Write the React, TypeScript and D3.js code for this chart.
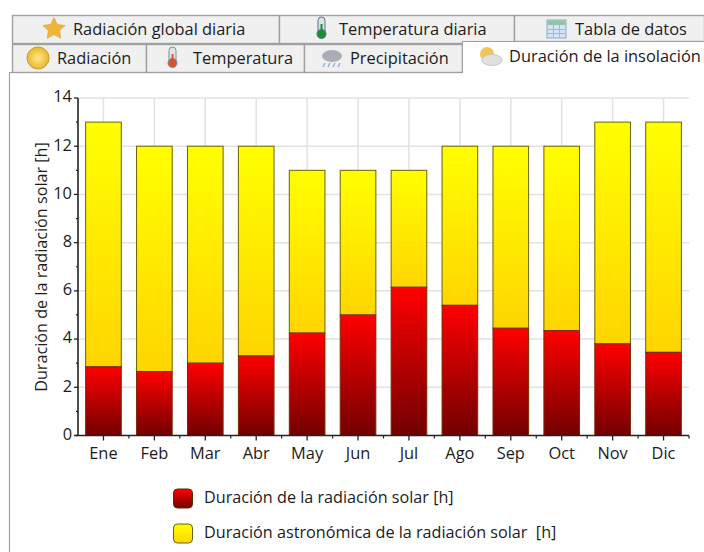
import React from "react";
import * as d3 from "d3";

const months = ["Ene","Feb","Mar","Abr","May","Jun","Jul","Ago","Sep","Oct","Nov","Dic"];
const sunshine = [2.85,2.65,3.0,3.3,4.25,5.0,6.15,5.4,4.45,4.35,3.8,3.45];
const astronomical = [13,12,12,12,11,11,11,12,12,12,13,13];
const yTicks = [0,2,4,6,8,10,12,14];
const yMinor = [1,3,5,7,9,11,13];
const yTitle = "Duración de la radiación solar [h]";
const legendItems = ["Duración de la radiación solar [h]","Duración astronómica de la radiación solar  [h]"];
const topTabs = ["Radiación global diaria","Temperatura diaria","Tabla de datos"];
const bottomTabs = ["Radiación","Temperatura","Precipitación","Duración de la insolación"];

const font = "'Open Sans','Noto Sans',sans-serif";
const ink = "#1c1c1c";

const Tab = ({x,y,w,h,fill="#f0f0f0",stroke="#a0a0a0"}:{x:number,y:number,w:number,h:number,fill?:string,stroke?:string}) =>
  <rect x={x+.5} y={y+.5} width={w} height={h} fill={fill} stroke={stroke} strokeWidth={1.4}/>;

export default function App(){
  const x = d3.scaleBand<string>().domain(months).range([78,689]).paddingInner(0.3).paddingOuter(0.15);
  const y = d3.scaleLinear().domain([0,14]).range([435.5,98]);
  const centers = months.map(m=>x(m)!+x.bandwidth()/2);
  const step = x.step();
  return (
    <svg width={704} height={552} style={{position:"fixed",left:0,top:0,display:"block",background:"#fff"}} fontFamily={font}>
      <defs>
        <linearGradient id="red" x1="0" y1="0" x2="0" y2="1">
          <stop offset="0" stopColor="#ff0000"/><stop offset="1" stopColor="#720000"/>
        </linearGradient>
        <linearGradient id="yel" x1="0" y1="0" x2="0" y2="1">
          <stop offset="0" stopColor="#ffff00"/><stop offset="1" stopColor="#ffd500"/>
        </linearGradient>
        <radialGradient id="sun"><stop offset="0" stopColor="#ffe98a"/><stop offset="1" stopColor="#e8b830"/></radialGradient>
      </defs>

      {/* panel */}
      <path d="M9.5 552V72.5H704" fill="none" stroke="#a0a0a0" strokeWidth={1.2}/>

      {/* tabs */}
      <Tab x={12} y={15} w={267} h={28}/>
      <Tab x={279} y={15} w={235} h={28}/>
      <Tab x={514} y={15} w={190} h={26}/>
      <Tab x={12} y={44} w={134} h={28}/>
      <Tab x={146} y={44} w={158} h={28}/>
      <Tab x={304} y={44} w={158} h={28}/>
      <path d="M462.5 72V41.5H704" fill="#fff" stroke="#a0a0a0" strokeWidth={1.2}/>
      <rect x={463} y={42} width={241} height={32} fill="#fff"/>

      {/* tab icons */}
      <path d="M54 17.500l3.400 7 7.600 1-5.500 5.200 1.400 7.600-6.900-3.700-6.900 3.700 1.400-7.600-5.500-5.200 7.600-1z" fill="#eeb53a" stroke="#d8a030" strokeWidth={.6}/>
      <rect x={318} y={17} width={7} height={18} rx={3.500} fill="#d9e4ea" stroke="#5b7180"/>
      <circle cx={321.500} cy={34} r={4.500} fill="#1f8a3c" stroke="#5b7180"/>
      <rect x={320.500} y={24} width={2} height={10} fill="#1f8a3c"/>
      <rect x={547} y={20} width={19} height={18} fill="#d2e4f5" stroke="#8aa9c6"/>
      <path d="M547 24.500h19M547 29.500h19M547 33.500h19M553.500 24v14M559.500 24v14" stroke="#9dbad6" fill="none"/>
      <rect x={547.500} y={20.500} width={18} height={4} fill="#8fc79a"/>
      <circle cx={38} cy={58} r={11} fill="url(#sun)" stroke="#c69a28"/>
      <rect x={169} y={47} width={7} height={17} rx={3.500} fill="#e4e4e8" stroke="#7d8fa0"/>
      <circle cx={172.500} cy={63} r={4.500} fill="#d9532c" stroke="#7d8fa0"/>
      <rect x={171.500} y={54} width={2} height={9} fill="#d9532c"/>
      <ellipse cx={332} cy={56} rx={10} ry={6} fill="#a9aeb4"/>
      <path d="M325 63l-2 4M330 63l-2 4M335 63l-2 4M340 63l-2 4" stroke="#8fb2dc" strokeWidth={1.5}/>
      <circle cx={487} cy={54} r={7} fill="#f3c558"/>
      <ellipse cx={492} cy={60} rx={10} ry={5.500} fill="#e0e0dc" stroke="#c8c8c4"/>

      {/* tab labels */}
      <g fontSize={16.400} fill={ink} dominantBaseline="middle">
        <text x={73} y={30.500}>{topTabs[0]}</text>
        <text x={339} y={30.500}>{topTabs[1]}</text>
        <text x={575} y={30.500}>{topTabs[2]}</text>
        <text x={57} y={59.500}>{bottomTabs[0]}</text>
        <text x={193} y={59.500}>{bottomTabs[1]}</text>
        <text x={350} y={59.500}>{bottomTabs[2]}</text>
        <text x={509} y={57.500}>{bottomTabs[3]}</text>
      </g>

      {/* grid */}
      <g stroke="#e2e2e2" strokeWidth={1.5} fill="none">
        {yTicks.slice(1).map(t=><line key={t} x1={78} x2={689} y1={y(t)} y2={y(t)}/>)}
        {centers.map((c,i)=><line key={i} x1={c} x2={c} y1={y(14)} y2={y(0)}/>)}
      </g>

      {/* bars */}
      {months.map((m,i)=>(
        <g key={m}>
          <rect x={x(m)} y={y(astronomical[i])} width={x.bandwidth()} height={y(sunshine[i])-y(astronomical[i])} fill="url(#yel)" stroke="#6b6200" strokeWidth={1}/>
          <rect x={x(m)} y={y(sunshine[i])} width={x.bandwidth()} height={y(0)-y(sunshine[i])} fill="url(#red)" stroke="#7a2a00" strokeWidth={1}/>
        </g>
      ))}

      {/* axes */}
      <g stroke="#222" fill="none">
        <line x1={78} x2={78} y1={y(14)} y2={y(0)} strokeWidth={1.6}/>
        <line x1={75} x2={689} y1={y(0)} y2={y(0)} strokeWidth={1.6}/>
        {yTicks.map(t=><line key={t} x1={74} x2={78} y1={y(t)} y2={y(t)} strokeWidth={1.3}/>)}
        {yMinor.map(t=><line key={t} x1={76} x2={78} y1={y(t)} y2={y(t)} strokeWidth={1.2}/>)}
        {centers.map((c,i)=><line key={i} x1={c} x2={c} y1={y(0)} y2={y(0)+5} strokeWidth={1.3}/>)}
        {months.map((m,i)=>{const b=78+step*(i+1);return <line key={m} x1={b} x2={b} y1={y(0)} y2={y(0)+3} strokeWidth={1.2}/>;})}
      </g>
      <g fontSize={16.400} fill={ink}>
        {yTicks.map(t=><text key={t} x={72} y={y(t)} textAnchor="end" dominantBaseline="middle">{t}</text>)}
      </g>
      <g fontSize={16.400} fill={ink} textAnchor="middle">
        {months.map((m,i)=><text key={m} x={centers[i]} y={459}>{m}</text>)}
      </g>
      <text transform="translate(47,267) rotate(-90)" fontSize={16.200} fill={ink} textAnchor="middle">{yTitle}</text>

      {/* legend */}
      {legendItems.map((l,i)=>{
        const ly = 489+i*35;
        return <g key={l}>
          <rect x={173.500} y={ly} width={19} height={19} rx={4} fill={i===0?"url(#red)":"url(#yel)"} stroke={i===0?"#5a2a00":"#6b6200"} strokeWidth={1}/>
          <text x={204} y={ly+10} fontSize={16.200} fill={ink} dominantBaseline="middle" style={{whiteSpace:"pre"}}>{l}</text>
        </g>;
      })}
    </svg>
  );
}
